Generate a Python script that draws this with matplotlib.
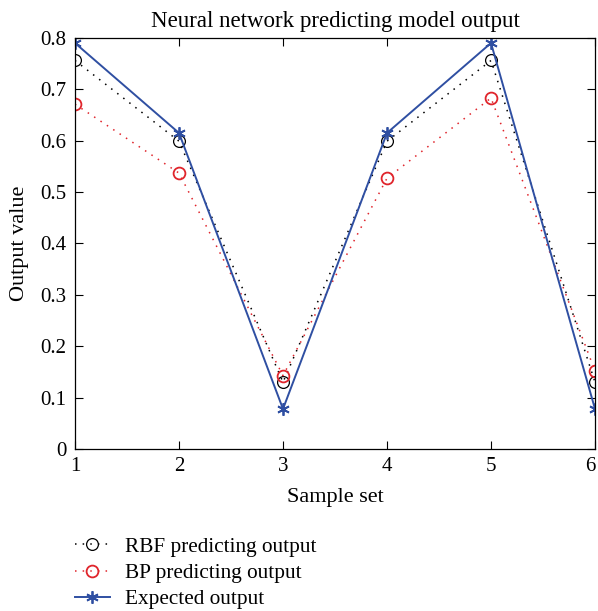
import matplotlib
matplotlib.use("Agg")
import matplotlib.pyplot as plt

plt.rcParams['font.family'] = ['Liberation Serif', 'DejaVu Serif']

samples = [1, 2, 3, 4, 5, 6]
rbf_output = [0.756, 0.599, 0.130, 0.599, 0.756, 0.130]
bp_output = [0.671, 0.537, 0.143, 0.527, 0.683, 0.152]
expected_output = [0.790, 0.615, 0.078, 0.615, 0.790, 0.078]

BLUE = "#2f4fa2"
RED = "#e0242b"

fig = plt.figure(figsize=(5.98, 6.11), dpi=100)
ax = fig.add_axes([0.1254, 0.265, 0.8696, 0.673])

ax.plot(samples, rbf_output, linestyle=(0, (1, 4)), color="black", linewidth=1.1,
        marker="o", markersize=8.5, markerfacecolor="none", markeredgecolor="black",
        markeredgewidth=0.9, label="RBF predicting output")
ax.plot(samples, bp_output, linestyle=(0, (1, 4)), color=RED, linewidth=1.1,
        marker="o", markersize=8.5, markerfacecolor="none", markeredgecolor=RED,
        markeredgewidth=1.3, label="BP predicting output")
ax.plot(samples, expected_output, linestyle="-", color=BLUE, linewidth=1.4,
        marker=(6, 2, 0), markersize=9, markeredgewidth=1.3, label="Expected output")

ax.set_xlim(1, 6)
ax.set_ylim(0, 0.8)
ax.set_xticks(samples)
ax.set_yticks([0, 0.1, 0.2, 0.3, 0.4, 0.5, 0.6, 0.7, 0.8])
ax.set_yticklabels(["0", "0.1", "0.2", "0.3", "0.4", "0.5", "0.6", "0.7", "0.8"])
ax.tick_params(direction="in", top=True, right=True, labelsize=15, length=6, pad=6)
ax.get_xticklabels()[-1].set_horizontalalignment("right")
for s in ax.spines.values():
    s.set_linewidth(0.9)

ax.set_title("Neural network predicting model output", fontsize=16.5, pad=8)
ax.set_xlabel("Sample set", fontsize=16, labelpad=8)
ax.set_ylabel("Output value", fontsize=16, labelpad=8)

fig.legend(loc="upper left", bbox_to_anchor=(0.111, 0.135), frameon=False,
           fontsize=15.3, handlelength=1.65, handletextpad=0.7, labelspacing=0.3,
           borderaxespad=0)

fig.savefig("out.png", dpi=100)
